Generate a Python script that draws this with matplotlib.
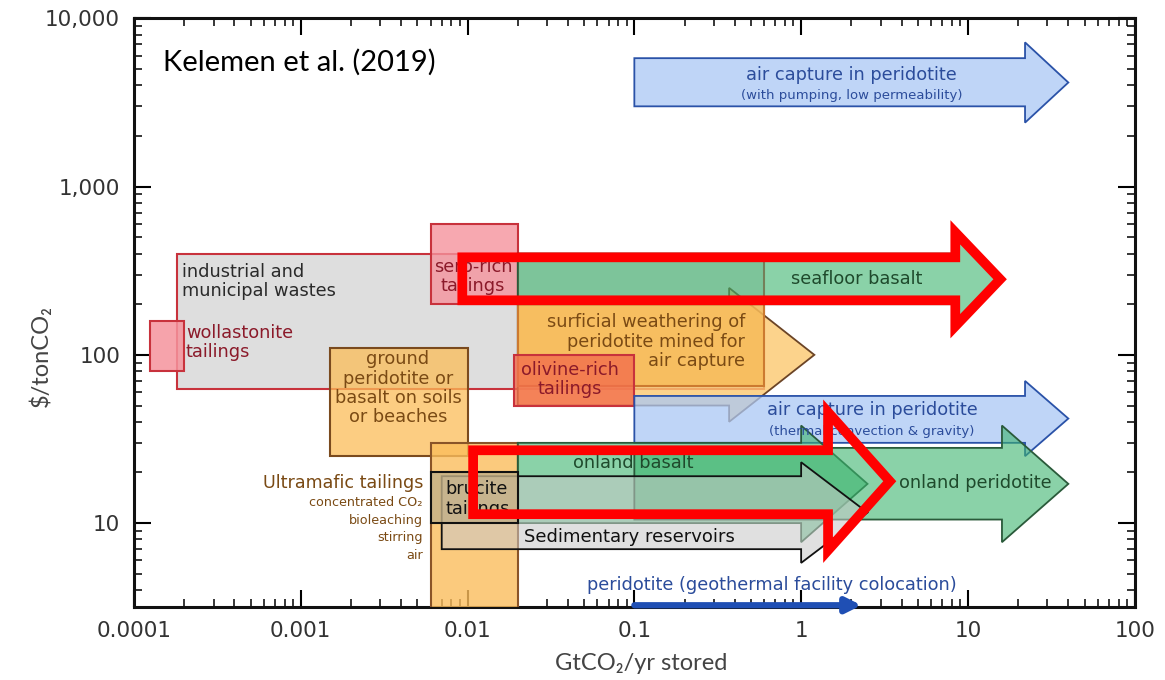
import matplotlib
matplotlib.use('Agg')
import matplotlib.pyplot as plt
from matplotlib.patches import Polygon
from matplotlib.ticker import NullFormatter
import numpy as np

# rectangular ranges: GtCO2/yr stored (x) vs $/tonCO2 (y)
box_names = ['industrial', 'wollastonite', 'serp_rich', 'ground_peridotite',
             'surficial_box', 'olivine_rich', 'ultramafic', 'brucite']
box_x0 = [1.8e-4, 1.25e-4, 0.006, 0.0015, 0.02, 0.019, 0.006, 0.006]
box_x1 = [0.6, 2e-4, 0.02, 0.01, 0.6, 0.1, 0.02, 0.02]
box_y0 = [63, 80, 200, 25, 65, 50, 1, 10]
box_y1 = [400, 160, 600, 110, 200, 100, 30, 20]

# open-ended ranges drawn as arrows
arrow_names = ['air_pumping', 'seafloor_basalt', 'surficial', 'air_thermal',
               'onland_basalt', 'onland_peridotite', 'sedimentary']
arrow_x0 = [0.1, 0.02, 0.02, 0.1, 0.02, 0.1, 0.007]
arrow_xhead = [22, 8.4, 0.37, 22, 1.0, 16, 1.0]
arrow_xtip = [40, 15, 1.2, 40, 2.5, 40, 2.5]
arrow_y0 = [3000, 200, 50, 30, 10, 10.5, 7]
arrow_y1 = [5800, 400, 200, 57, 30, 28, 19]
arrow_h0 = [2400, 160, 40, 25, 7.7, 7.7, 5.8]
arrow_h1 = [7200, 500, 250, 70, 38, 38, 23]

# red highlight arrows added on top of the figure
hl_x0 = [0.0093, 0.0108]
hl_xhead = [8.4, 1.45]
hl_xtip = [15.6, 3.4]
hl_y0 = [211, 11.3]
hl_y1 = [380, 27.1]
hl_h0 = [148, 6.9]
hl_h1 = [535, 45.6]

# geothermal colocation range along the axis
geo_x = [0.1, 2.3]

xticks = [1e-4, 1e-3, 1e-2, 1e-1, 1, 10, 100]
xticklabels = ['0.0001', '0.001', '0.01', '0.1', '1', '10', '100']
yticks = [10, 100, 1000, 10000]
yticklabels = ['10', '100', '1,000', '10,000']

RED = '#c8323c'
GREEN = '#3cb46e'
GREEN_EC = '#2a5a3a'
BLUE = '#aac8f5'
BLUE_EC = '#2a52a8'
styles = {
    'industrial': dict(fc='#dedede', ec=RED, alpha=1.0, z=1),
    'wollastonite': dict(fc='#f5939d', ec=RED, alpha=0.85, z=2),
    'serp_rich': dict(fc='#f5939d', ec=RED, alpha=0.8, z=2),
    'ground_peridotite': dict(fc='#fbbd58', ec='#7a4a1e', alpha=0.75, z=3),
    'surficial': dict(fc='#fcc870', ec='#6b4426', alpha=0.8, z=3),
    'surficial_box': dict(fc='#f8bc5a', ec='#cc7a30', alpha=0.85, z=3.1),
    'olivine_rich': dict(fc='#f26e4c', ec=RED, alpha=0.8, z=4),
    'seafloor_basalt': dict(fc=GREEN, ec=GREEN_EC, alpha=0.6, z=4),
    'air_pumping': dict(fc=BLUE, ec=BLUE_EC, alpha=0.75, z=5),
    'air_thermal': dict(fc=BLUE, ec=BLUE_EC, alpha=0.75, z=5),
    'ultramafic': dict(fc='#fbbd5c', ec='#8a5428', alpha=0.8, z=5),
    'onland_basalt': dict(fc=GREEN, ec=GREEN_EC, alpha=0.6, z=6),
    'onland_peridotite': dict(fc=GREEN, ec=GREEN_EC, alpha=0.6, z=6.2),
    'sedimentary': dict(fc='#c8c8c8', ec='#111111', alpha=0.55, z=6.5),
    'brucite': dict(fc='#c2b088', ec='#111111', alpha=0.8, z=8),
}


def box_verts(x0, x1, y0, y1):
    return [(x0, y0), (x1, y0), (x1, y1), (x0, y1)]


def arrow_verts(x0, xb, xt, y0, y1, h0, h1):
    yc = np.sqrt(h0 * h1)
    return [(x0, y0), (xb, y0), (xb, h0), (xt, yc), (xb, h1), (xb, y1), (x0, y1)]


fig = plt.figure(figsize=(11.65, 6.8), dpi=100)
ax = fig.add_axes([0.115, 0.107, 0.859, 0.866])
ax.set_xscale('log')
ax.set_yscale('log')
ax.set_xlim(1e-4, 100)
ax.set_ylim(10 ** 0.5, 1e4)

for i, name in enumerate(box_names):
    s = styles[name]
    v = box_verts(box_x0[i], box_x1[i], box_y0[i], box_y1[i])
    ax.add_patch(Polygon(v, closed=True, fc=s['fc'], ec='none',
                         alpha=s['alpha'], zorder=s['z']))
    ax.add_patch(Polygon(v, closed=True, fill=False, ec=s['ec'], lw=1.5,
                         zorder=s['z']))

for i, name in enumerate(arrow_names):
    s = styles[name]
    v = arrow_verts(arrow_x0[i], arrow_xhead[i], arrow_xtip[i],
                    arrow_y0[i], arrow_y1[i], arrow_h0[i], arrow_h1[i])
    ax.add_patch(Polygon(v, closed=True, fc=s['fc'], ec='none',
                         alpha=s['alpha'], zorder=s['z']))
    ax.add_patch(Polygon(v, closed=True, fill=False, ec=s['ec'], lw=1.3,
                         zorder=s['z']))

for i in range(len(hl_x0)):
    v = arrow_verts(hl_x0[i], hl_xhead[i], hl_xtip[i],
                    hl_y0[i], hl_y1[i], hl_h0[i], hl_h1[i])
    ax.add_patch(Polygon(v, closed=True, fill=False, ec='#ff0000', lw=7,
                         joinstyle='miter', zorder=20))

ax.annotate('', xy=(geo_x[1], 3.25), xytext=(geo_x[0], 3.25),
            arrowprops=dict(arrowstyle='-|>', color='#1f4fb4', lw=4.5,
                            mutation_scale=22, shrinkA=0, shrinkB=0),
            annotation_clip=False, zorder=12)

# labels
DG = '#1f4a2c'
DR = '#8b1a2a'
BR = '#7a4a14'
BL = '#2b4c9b'
fs = 12.8
ls = 1.08
ax.text(2.0, 4580, 'air capture in peridotite', color=BL, fontsize=fs,
        ha='center', va='center', zorder=15)
ax.text(2.0, 3480, '(with pumping, low permeability)', color=BL, fontsize=9.5,
        ha='center', va='center', zorder=15)
ax.text(1.95e-4, 274, 'industrial and\nmunicipal wastes', color='#2a2a2a',
        fontsize=fs, ha='left', va='center', linespacing=ls, zorder=15)
ax.text(2.05e-4, 119, 'wollastonite\ntailings', color=DR, fontsize=fs,
        ha='left', va='center', linespacing=ls, zorder=15)
ax.text(0.0108, 293, 'serp-rich\ntailings', color=DR, fontsize=fs,
        ha='center', va='center', linespacing=ls, zorder=15)
ax.text(2.16, 281, 'seafloor basalt', color=DG, fontsize=fs,
        ha='center', va='center', zorder=15)
for yv, t in zip([156, 120, 92.5],
                 ['surficial weathering of', 'peridotite mined for',
                  'air capture']):
    ax.text(0.46, yv, t, color=BR, fontsize=fs, ha='right', va='center',
            zorder=15)
ax.text(0.041, 71.6, 'olivine-rich\ntailings', color=DR, fontsize=fs,
        ha='center', va='center', linespacing=ls, zorder=15)
ax.text(0.00383, 63.4, 'ground\nperidotite or\nbasalt on soils\nor beaches',
        color=BR, fontsize=fs, ha='center', va='center', linespacing=ls,
        zorder=15)
ax.text(2.66, 46.9, 'air capture in peridotite', color=BL, fontsize=fs,
        ha='center', va='center', zorder=15)
ax.text(2.66, 35.2, '(thermal convection & gravity)', color=BL, fontsize=9.5,
        ha='center', va='center', zorder=15)
ax.text(0.099, 22.7, 'onland basalt', color=DG, fontsize=fs,
        ha='center', va='center', zorder=15)
ax.text(11.0, 17.3, 'onland peridotite', color=DG, fontsize=fs,
        ha='center', va='center', zorder=15)
ax.text(0.0074, 13.9, 'brucite\ntailings', color='#111111', fontsize=fs,
        ha='left', va='center', linespacing=ls, zorder=15)
ax.text(0.0218, 8.24, 'Sedimentary reservoirs', color='#111111', fontsize=13,
        ha='left', va='center', zorder=15)
ax.text(0.0054, 17.3, 'Ultramafic tailings', color=BR, fontsize=12.6,
        ha='right', va='center', zorder=15)
for yv, t in zip([13.3, 10.4, 8.24, 6.44],
                 ['concentrated CO₂', 'bioleaching', 'stirring', 'air']):
    ax.text(0.0054, yv, t, color=BR, fontsize=9.2, ha='right', va='center',
            zorder=15)
ax.text(0.67, 4.3, 'peridotite (geothermal facility colocation)', color=BL,
        fontsize=12.8, ha='center', va='center', zorder=15)
ax.text(0.029, 0.925, 'Kelemen et al. (2019)', transform=ax.transAxes,
        fontsize=21, family='Lato', ha='left', va='center', zorder=15)

# axes styling
ax.set_xticks(xticks)
ax.set_xticklabels(xticklabels)
ax.set_yticks(yticks)
ax.set_yticklabels(yticklabels)
ax.xaxis.set_minor_formatter(NullFormatter())
ax.yaxis.set_minor_formatter(NullFormatter())
ax.tick_params(which='both', direction='in', top=True, right=True,
               labelsize=15.5, labelcolor='#333333', pad=10)
ax.tick_params(which='major', length=12, width=1.5)
ax.tick_params(which='minor', length=6, width=1.1)
for sp in ax.spines.values():
    sp.set_linewidth(2.2)
    sp.set_color('#111111')

ax.set_xlabel('GtCO₂/yr stored', fontsize=17, color='#444444', family='Lato')
ax.set_ylabel(r'\$/tonCO₂', fontsize=17, color='#444444', family='Lato')
ax.xaxis.set_label_coords(0.507, -0.078)
ax.yaxis.set_label_coords(-0.082, 0.426)

fig.savefig('out.png', dpi=100)
plt.close(fig)
